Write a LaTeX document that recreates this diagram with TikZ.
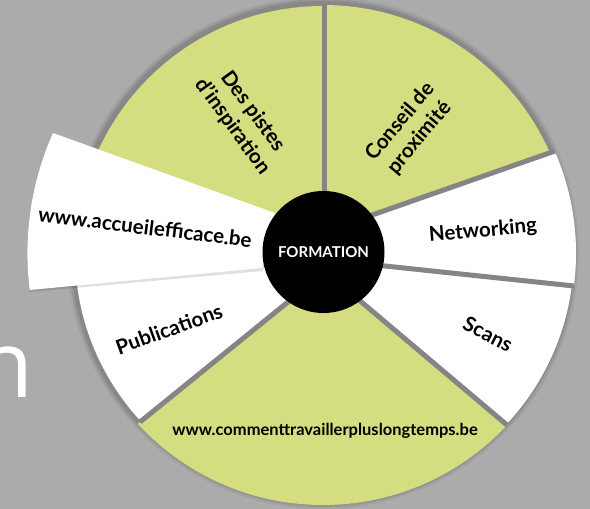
\documentclass[tikz,border=0pt]{standalone}
\usepackage{fontspec}
\setmainfont{Lato}
\newfontfamily\bigfont{Open Sans}
\usetikzlibrary{calc}
\definecolor{bggray}{HTML}{ABABAB}
\definecolor{seggreen}{HTML}{D4DD80}
\definecolor{divgray}{HTML}{858585}
\begin{document}
\begin{tikzpicture}[x=1pt,y=1pt,
  divider/.style={draw=divgray,line width=5pt},
  lab/.style={font=\bfseries\fontsize{20.5}{25}\selectfont,text=black,align=center,inner sep=0pt},
  seg/.style={fill=#1}
]
\fill[bggray] (0,0) rectangle (590,-509);
\useasboundingbox (0,0) rectangle (590,-509);
% partial background letter
\node[anchor=base west,inner sep=0pt,text=white,font=\bigfont\fontsize{93}{93}\selectfont] (bgn) at (-24,-397) {n};
% geometry
\coordinate (C) at (323,-253);
\coordinate (D1i) at (324,-192); \coordinate (D1o) at (324,-5);
\coordinate (D2i) at (375,-214); \coordinate (D2o) at (555,-151);
\coordinate (D3i) at (385,-266); \coordinate (D3o) at (574,-286);
\coordinate (D4i) at (365,-305); \coordinate (D4o) at (507,-425);
\coordinate (D5i) at (283,-306); \coordinate (D5o) at (140,-422);
\coordinate (D6i) at (265,-240); \coordinate (D6o) at (40,-200);
% soft outer shadow
\foreach \r/\o in {256/0.05,254/0.07,252/0.09}{\fill[black,opacity=\o] (C) circle (\r);}
% segments
\begin{scope}\clip (C) -- (D1i) -- ($(D1i)!3!(D1o)$) -- ($(D2i)!3!(D2o)$) -- (D2i) -- cycle;
\fill[seggreen] (C) circle (248);\end{scope}
\begin{scope}\clip (C) -- (D2i) -- ($(D2i)!3!(D2o)$) -- ($(D3i)!3!(D3o)$) -- (D3i) -- cycle;
\fill[white] (C) circle (253);\end{scope}
\begin{scope}\clip (C) -- (D3i) -- ($(D3i)!3!(D3o)$) -- ($(D4i)!3!(D4o)$) -- (D4i) -- cycle;
\fill[white] (C) circle (251);\end{scope}
\begin{scope}\clip (C) -- (D4i) -- ($(D4i)!3!(D4o)$) -- ($(D5i)!3!(D5o)$) -- (D5i) -- cycle;
\fill[seggreen] (C) circle (252);\end{scope}
\begin{scope}\clip (C) -- (D5i) -- ($(D5i)!3!(D5o)$) -- ($(D6i)!3!(D6o)$) -- (D6i) -- cycle;
\fill[white] (C) circle (248);\end{scope}
\begin{scope}\clip (C) -- (D6i) -- ($(D6i)!3!(D6o)$) -- ($(D1i)!3!(D1o)$) -- (D1i) -- cycle;
\fill[seggreen] (C) circle (247);\end{scope}
% dividers
\draw[divider] ($(D1o)!1.1!(D1i)$) -- (D1o);
\draw[divider] ($(D2o)!1.1!(D2i)$) -- (D2o);
\draw[divider] ($(D3o)!1.1!(D3i)$) -- (D3o);
\draw[divider] ($(D4o)!1.1!(D4i)$) -- (D4o);
\draw[divider] ($(D5o)!1.1!(D5i)$) -- (D5o);
% pulled-out segment
\fill[black,opacity=0.12] (276,-215) -- (53,-135) arc[start angle=156, end angle=187.1, radius=296] -- (263,-271) -- cycle;
\fill[white] (275,-213) -- (53,-133) arc[start angle=156, end angle=187.1, radius=296] -- (262,-268) -- cycle;
% labels
\node[lab,rotate=-54] (pistes) at (243,-119) {Des pistes\\d'inspiration};
\node[lab,rotate=50] (conseil) at (410,-130) {Conseil de\\proximité};
\node[lab,rotate=5] (network) at (483,-231) {Networking};
\node[lab,rotate=-27] (scans) at (488,-334) {Scans};
\node[lab,font=\bfseries\fontsize{16.5}{20}\selectfont] (comment) at (325,-431) {www.commenttravaillerpluslongtemps.be};
\node[lab,rotate=20] (pubs) at (169,-329) {Publications};
\node[lab,rotate=-7] (accueil) at (145,-227) {www.accueilefficace.be};
% centre
\node[circle,fill=black,minimum size=122pt,inner sep=0pt,text=white,font=\bfseries\fontsize{15}{18}\selectfont] (formation) at (323.5,-252) {FORMATION};
\end{tikzpicture}
\end{document}
